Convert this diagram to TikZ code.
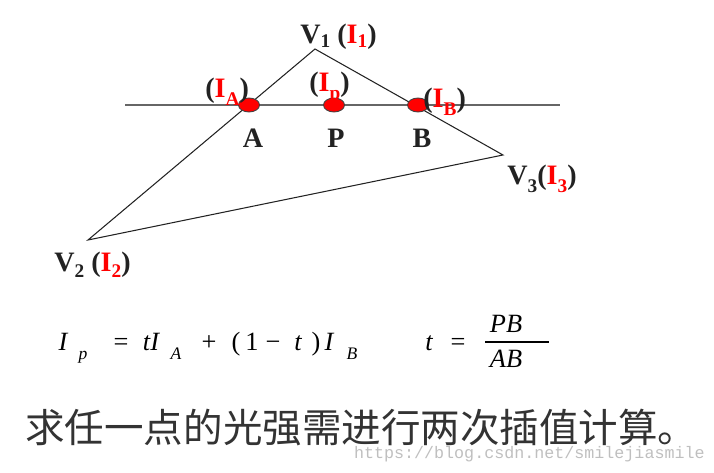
\documentclass[tikz,border=0pt]{standalone}
\usepackage{fontspec}
\setmainfont{Liberation Serif}
\newfontfamily\cjkfont{Noto Sans CJK SC}
\newfontfamily\wmfont{Liberation Mono}
\usetikzlibrary{shapes.geometric}
\definecolor{inkdark}{RGB}{34,34,34}
\definecolor{vred}{RGB}{255,0,0}
\newcommand{\lowsub}[2][3pt]{\raisebox{-#1}{\fontsize{11}{13}\selectfont #2}}
\newcommand{\redI}[2][3pt]{\textcolor{vred}{I\lowsub[#1]{#2}}}

\begin{document}
\begin{tikzpicture}[x=0.02cm, y=-0.02cm,
  lbl/.style={inner sep=0pt, anchor=base west, text=inkdark,
              font=\fontsize{16}{19}\selectfont\bfseries},
  ptlbl/.style={lbl, anchor=base},
  pt/.style={ellipse, draw=black!75, fill=vred, line width=0.5pt,
             minimum width=0.42cm, minimum height=0.28cm, inner sep=0pt},
  eq/.style={inner sep=0pt, anchor=base, text=black,
             font=\fontsize{15}{18}\selectfont\itshape},
  eqsub/.style={eq, font=\fontsize{10}{12}\selectfont\itshape},
  edge/.style={draw=inkdark, line width=0.6pt},
  scan/.style={draw=black!60, line width=0.9pt}
]
  \useasboundingbox (0,0) rectangle (714,473);

  % triangle and scan line
  \coordinate (v1) at (315,49);
  \coordinate (v2) at (88,240);
  \coordinate (v3) at (503,155);
  \coordinate (sl) at (125,105);
  \coordinate (sr) at (560,105);
  \draw[scan] (sl) -- (sr);
  \draw[edge] (v1) -- (v2) -- (v3) -- cycle;

  \node[pt] (a) at (249,105) {};
  \node[pt] (p) at (334,105) {};
  \node[pt] (b) at (418,105) {};

  % labels
  \node[lbl] (v1l) at (300,44)  {V\lowsub[2pt]{1} (\redI[2pt]{1})};
  \node[lbl] (v2l) at (54,272)  {V\lowsub{2} (\redI{2})};
  \node[lbl] (v3l) at (507,185) {V\lowsub[4pt]{3}(\redI[4pt]{3})};
  \node[lbl] (ial) at (205,98)  {(\redI[4pt]{A})};
  \node[lbl] (ipl) at (309,92)  {(\redI[4pt]{p})};
  \node[lbl] (ibl) at (423,108) {(\redI[4pt]{B})};
  \node[ptlbl] (al) at (253,148) {A};
  \node[ptlbl] (pl) at (336,148) {P};
  \node[ptlbl] (bl) at (422,148) {B};

  % formula
  \foreach \x/\s [count=\i] in {63/I, 121/{\upshape =}, 151/tI, 209/{\upshape +},
      236/{\upshape (}, 252/{\upshape 1}, 273/{\upshape −}, 298/t,
      316/{\upshape )}, 329/I, 429/t, 458/{\upshape =}}
    \node[eq] (m\i) at (\x,350) {\s};
  \foreach \x/\s [count=\i] in {83/p, 176/A, 352/B}
    \node[eqsub] (s\i) at (\x,359) {\s};
  \node[eq] (num) at (506,332) {PB};
  \node[eq] (den) at (506,367) {AB};
  \coordinate (fl) at (485,342);
  \coordinate (fr) at (549,342);
  \draw[line width=0.8pt] (fl) -- (fr);

  \node[inner sep=0pt, anchor=base west, text=black!80,
        font=\cjkfont\fontsize{22.5}{26}\selectfont] (note) at (25,442)
        {求任一点的光强需进行两次插值计算。};
  \node[inner sep=0pt, anchor=base east, text=black!25,
        font=\wmfont\fontsize{9.5}{11}\selectfont] (wm) at (705,458)
        {https://blog.csdn.net/smilejiasmile};
\end{tikzpicture}
\end{document}
